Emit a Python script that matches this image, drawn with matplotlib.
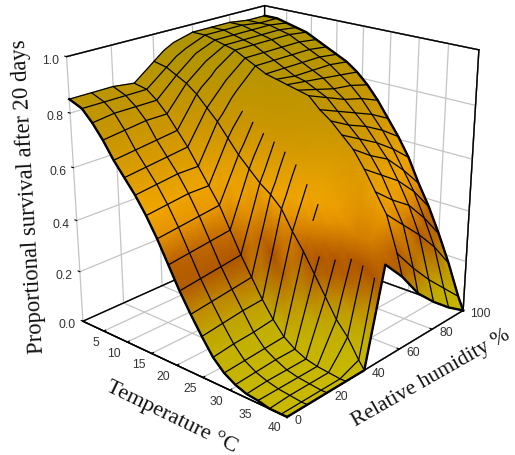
import numpy as np
import matplotlib
matplotlib.use('Agg')
import matplotlib.pyplot as plt
from matplotlib.colors import LinearSegmentedColormap
from mpl_toolkits.mplot3d import proj3d

# grid of the surface
temps = [0.42, 3, 5, 7, 9, 11, 13, 15, 17, 19, 21, 23, 25, 27, 29, 31, 33, 35, 37, 39, 40]
humid = [0, 10, 20, 30, 35, 40, 42.5, 45, 47.5, 50, 60, 70, 80, 90, 100]

h0 = [.85, .83, .79, .74, .68, .63, .58, .52, .45, .37, .29, .22, .155, .095, .055, .03, .015, .01, 0, 0, 0]
h10 = [.85, .83, .80, .75, .69, .64, .59, .53, .46, .38, .30, .23, .165, .105, .06, .035, .02, .01, .005, 0, 0]
h20 = [.85, .83, .80, .76, .70, .65, .60, .54, .47, .39, .31, .24, .175, .11, .065, .04, .02, .01, .005, 0, 0]
h30 = [.84, .83, .80, .76, .71, .66, .60, .54, .48, .40, .32, .25, .18, .12, .07, .04, .02, .01, .005, 0, 0]
h35 = [.87, .86, .835, .805, .765, .72, .67, .615, .56, .50, .44, .39, .335, .27, .215, .165, .12, .08, .05, .015, 0]
h40 = [.90, .89, .87, .85, .82, .78, .74, .69, .64, .60, .56, .53, .49, .42, .36, .29, .22, .15, .10, .03, 0]
h42 = [.915, .905, .885, .865, .84, .80, .76, .72, .67, .64, .60, .57, .535, .47, .41, .345, .28, .22, .18, .12, .09]
h45 = [.93, .92, .90, .88, .855, .82, .785, .745, .705, .675, .645, .62, .585, .52, .46, .395, .34, .285, .26, .215, .18]
h47 = [.94, .93, .915, .895, .87, .84, .81, .77, .74, .71, .69, .665, .63, .57, .51, .45, .40, .35, .34, .31, .27]
h50 = [.95, .94, .93, .91, .89, .86, .83, .80, .77, .75, .73, .71, .68, .62, .56, .50, .46, .42, .42, .40, .36]
h60 = [.97, .97, .96, .95, .94, .92, .90, .88, .87, .86, .85, .84, .80, .77, .73, .69, .63, .56, .49, .36, .28]
h70 = [.97, .97, .96, .95, .94, .92, .90, .88, .86, .85, .83, .81, .77, .73, .69, .64, .58, .50, .42, .27, .18]
h80 = [.97, .97, .96, .95, .94, .92, .90, .88, .86, .84, .81, .78, .74, .70, .65, .60, .53, .45, .35, .19, .11]
h90 = [.96, .96, .96, .95, .94, .92, .90, .88, .86, .83, .80, .76, .71, .66, .60, .53, .46, .37, .27, .12, .05]
h100 = [.96, .96, .95, .94, .93, .91, .89, .87, .85, .82, .78, .73, .67, .61, .54, .45, .37, .275, .17, .05, 0]
survival = np.array([h0, h10, h20, h30, h35, h40, h42, h45, h47, h50, h60, h70, h80, h90, h100])

temp_ticks = [5, 10, 15, 20, 25, 30, 35, 40]
humid_ticks = [0, 20, 40, 60, 80, 100]
surv_ticks = [0.0, 0.2, 0.4, 0.6, 0.8, 1.0]

cmap = LinearSegmentedColormap.from_list('surv', [
    (0.00, '#c8b800'), (0.14, '#c0ac00'), (0.22, '#c08c00'), (0.28, '#b46000'), (0.33, '#ac5000'),
    (0.38, '#bc6400'), (0.45, '#e49000'), (0.52, '#f2a600'), (0.72, '#cc9600'), (1.00, '#a89400')])

W, H = 515, 456
fig = plt.figure(figsize=(W / 100, H / 100), dpi=100)
ax = fig.add_axes([32.3 / W, (H - 433.2) / H, 472 / W, 472 / H], projection='3d')
ax.view_init(21.434, -48.379)
ax.set_proj_type('persp', focal_length=0.498)
ax.set_box_aspect((1, 1.006, 1.008), zoom=1.0)
ax.set_xlim(temps[0], 40, view_margin=0)
ax.set_ylim(0, 100, view_margin=0)
ax.set_zlim(0, 1, view_margin=0)

ax.set_xticks(temp_ticks)
ax.set_yticks(humid_ticks)
ax.set_zticks(surv_ticks)
ax.set_xticklabels([])
ax.set_yticklabels([])
ax.set_zticklabels([])
ax.zaxis._axinfo['juggled'] = (1, 0, 2)
for axis in (ax.xaxis, ax.yaxis, ax.zaxis):
    axis.set_pane_color('white')
    axis.pane.set_edgecolor('black')
    axis.line.set_color('black')
    axis.line.set_linewidth(1.0)
    axis._axinfo['grid'].update(color='#c4c4c4', linewidth=0.9)
    axis._axinfo['tick'].update(inward_factor=0.0, outward_factor=0.12)

# back edges of the box
t0 = temps[0]
ax.plot([t0, t0], [0, 100], [1, 1], color='black', lw=1.0)
ax.plot([t0, 40], [100, 100], [1, 1], color='black', lw=1.0)
ax.plot([t0, t0], [100, 100], [0, 1], color='black', lw=1.0)
ax.plot([40, 40], [100, 100], [0, 1], color='black', lw=1.0)
ax.plot([t0, t0], [0, 100], [0, 0], color='black', lw=1.0)
ax.plot([t0, 40], [100, 100], [0, 0], color='black', lw=1.0)

# surface is painted over the 3d box in pixel coordinates
fig.canvas.draw()
M = ax.get_proj()


def to_pixels(xs, ys, zs):
    u, v, _ = proj3d.proj_transform(np.ravel(xs), np.ravel(ys), np.ravel(zs), M)
    xy = ax.transData.transform(np.column_stack([u, v]))
    return xy[:, 0], H - xy[:, 1]


T, R = np.meshgrid(temps, humid)
px, py = to_pixels(T, R, survival)
px = px.reshape(T.shape)
py = py.reshape(T.shape)

ov = fig.add_axes([0, 0, 1, 1])
ov.set_xlim(0, W)
ov.set_ylim(H, 0)
ov.axis('off')
# far side first: high humidity, low temperature
ov.pcolormesh(px[::-1], py[::-1], survival[::-1], shading='gouraud', cmap=cmap, vmin=0, vmax=1)

for i, h in enumerate(humid):
    if h % 10 == 0 and h != 50:
        ov.plot(px[i], py[i], color='black', lw=0.9)

# cross lines break up on the steep part, as in the original render
hum = np.array(humid)
wall = (hum > 40) & (hum < 60)
for j, t in enumerate(temps):
    x = px[:, j].copy()
    y = py[:, j].copy()
    if t >= 15:
        z = survival[:, j]
        x[wall & (((z > 0.36) & (z < 0.46)) | (hum >= 50))] = np.nan
    ov.plot(x, y, color='black', lw=0.9)
ov.plot(px[0], py[0], color='black', lw=1.7)
ov.plot(px[-1], py[-1], color='black', lw=1.7)
ov.plot(px[:, -1], py[:, -1], color='black', lw=1.7)

# tick labels
tick_font = dict(family='Liberation Sans', fontsize=8.7, color='#333333')
for t in temp_ticks:
    x, y = to_pixels([t], [0], [0])
    ov.text(x[0] - (8 if t < 10 else 13), y[0] + 10.5, str(t), ha='center', va='center', **tick_font)
for h in humid_ticks:
    x, y = to_pixels([40], [h], [0])
    ov.text(x[0] + 7, y[0] + 3, str(h), ha='left', va='center', **tick_font)
for s in surv_ticks:
    x, y = to_pixels([t0], [0], [s])
    ov.text(x[0] - 7, y[0] + 3, '%.1f' % s, ha='right', va='center', **tick_font)

serif = 'Liberation Serif'
ov.text(28, 196, 'Proportional survival after 20 days', rotation=93.3, ha='center', va='center',
        family=serif, fontsize=16.3, color='#111111')
ov.text(172, 417, 'Temperature °C', rotation=-25.7, rotation_mode='anchor', ha='center', va='center',
        family=serif, fontsize=16.2, color='#111111')
ov.text(431, 378, 'Relative humidity %', rotation=29.7, rotation_mode='anchor', ha='center', va='center',
        family=serif, fontsize=15.6, color='#111111')

fig.savefig('out.png', dpi=100)
